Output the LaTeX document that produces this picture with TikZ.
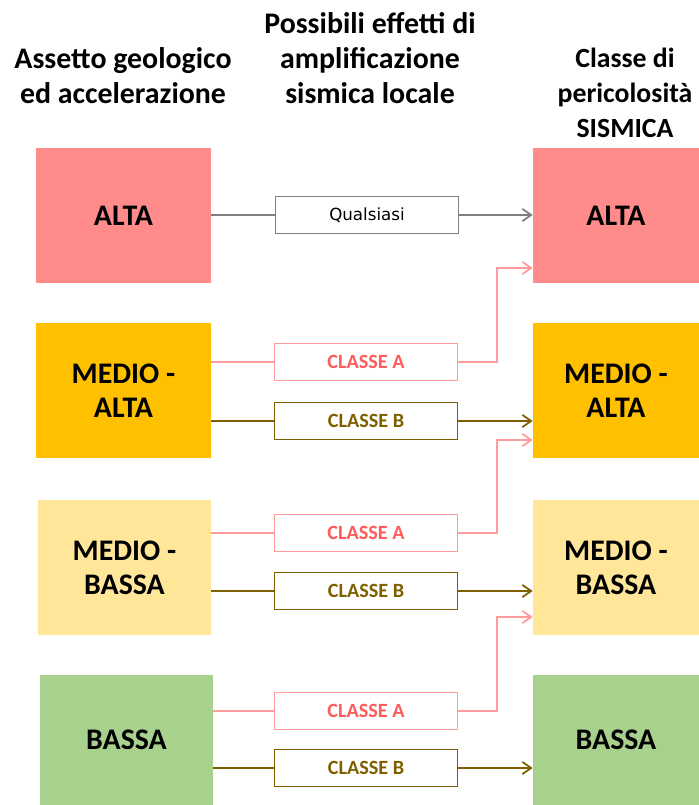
\documentclass[tikz,border=0pt]{standalone}
\usepackage{fontspec}
\setmainfont{Carlito}
\newfontfamily\smallfont{DejaVu Sans}
\usetikzlibrary{arrows.meta}

\definecolor{pinkfill}{HTML}{FF8B8B}
\definecolor{orangefill}{HTML}{FFC000}
\definecolor{yellowfill}{HTML}{FFE699}
\definecolor{greenfill}{HTML}{A9D18E}
\definecolor{pinkline}{HTML}{FF9B9B}
\definecolor{pinktext}{HTML}{FF5B5B}
\definecolor{brownline}{HTML}{7F6000}
\definecolor{grayline}{HTML}{7F7F7F}

\begin{document}
\begin{tikzpicture}[x=0.02cm,y=-0.02cm]
    \tikzstyle{level}=[inner sep=0pt,align=center,font=\fontsize{17}{19.3}\selectfont\bfseries,minimum height=2.7cm]
    \tikzstyle{effect}=[draw,fill=white,inner sep=0pt,minimum width=3.66cm,minimum height=0.74cm,font=\fontsize{11.5}{12}\selectfont\bfseries]
    \tikzstyle{head}=[align=center,font=\fontsize{17}{19.8}\selectfont\bfseries]
    \tikzstyle{arrow}=[-{Straight Barb[length=5pt,width=7pt]},line width=1pt]

    \useasboundingbox (0,0) rectangle (699,805);

    % titoli
    \node (h1)[head] at (123,76) {Assetto geologico\\ed accelerazione};
    \node (h2)[head] at (370,58) {Possibili effetti di\\amplificazione\\sismica locale};
    \node (h3)[head,font=\fontsize{15.8}{19.8}\selectfont\bfseries] at (625,93) {Classe di\\pericolosità\\SISMICA};

    % assetto geologico
    \node (a1)[level,fill=pinkfill,minimum width=3.5cm] at (123.5,215.5) {ALTA};
    \node (a2)[level,fill=orangefill,minimum width=3.5cm] at (123.5,390.5) {MEDIO -\\ALTA};
    \node (a3)[level,fill=yellowfill,minimum width=3.46cm] at (124.5,567.5) {MEDIO -\\BASSA};
    \node (a4)[level,fill=greenfill,minimum width=3.46cm,minimum height=2.6cm] at (126.5,740) {BASSA};

    % classe di pericolosita
    \node (c1)[level,fill=pinkfill,minimum width=3.32cm] at (616,215.5) {ALTA};
    \node (c2)[level,fill=orangefill,minimum width=3.32cm] at (616,390.5) {MEDIO -\\ALTA};
    \node (c3)[level,fill=yellowfill,minimum width=3.32cm] at (616,567.5) {MEDIO -\\BASSA};
    \node (c4)[level,fill=greenfill,minimum width=3.32cm,minimum height=2.6cm] at (616,740) {BASSA};

    % effetti
    \node (q)[effect,draw=grayline,font=\smallfont\fontsize{9.5}{11}\selectfont] at (367,215) {Qualsiasi};
    \node (e2a)[effect,draw=pinkline,text=pinktext] at (366,362) {CLASSE A};
    \node (e2b)[effect,draw=brownline,text=brownline] at (366,421) {CLASSE B};
    \node (e3a)[effect,draw=pinkline,text=pinktext] at (366,533) {CLASSE A};
    \node (e3b)[effect,draw=brownline,text=brownline] at (366,591) {CLASSE B};
    \node (e4a)[effect,draw=pinkline,text=pinktext] at (366,711) {CLASSE A};
    \node (e4b)[effect,draw=brownline,text=brownline] at (366,768) {CLASSE B};

    % collegamenti
    \draw[grayline,line width=1pt] (a1.east |- q) -- (q);
    \draw[arrow,grayline] (q) -- (c1.west |- q);

    \draw[pinkline,line width=1pt] (a2.east |- e2a) -- (e2a);
    \draw[arrow,pinkline] (e2a.east) -| (497,268) -- (c1.west |- 0,268);
    \draw[brownline,line width=1pt] (a2.east |- e2b) -- (e2b);
    \draw[arrow,brownline] (e2b) -- (c2.west |- e2b);

    \draw[pinkline,line width=1pt] (a3.east |- e3a) -- (e3a);
    \draw[arrow,pinkline] (e3a.east) -| (497,440) -- (c2.west |- 0,440);
    \draw[brownline,line width=1pt] (a3.east |- e3b) -- (e3b);
    \draw[arrow,brownline] (e3b) -- (c3.west |- e3b);

    \draw[pinkline,line width=1pt] (a4.east |- e4a) -- (e4a);
    \draw[arrow,pinkline] (e4a.east) -| (497,617) -- (c3.west |- 0,617);
    \draw[brownline,line width=1pt] (a4.east |- e4b) -- (e4b);
    \draw[arrow,brownline] (e4b) -- (c4.west |- e4b);
\end{tikzpicture}
\end{document}
